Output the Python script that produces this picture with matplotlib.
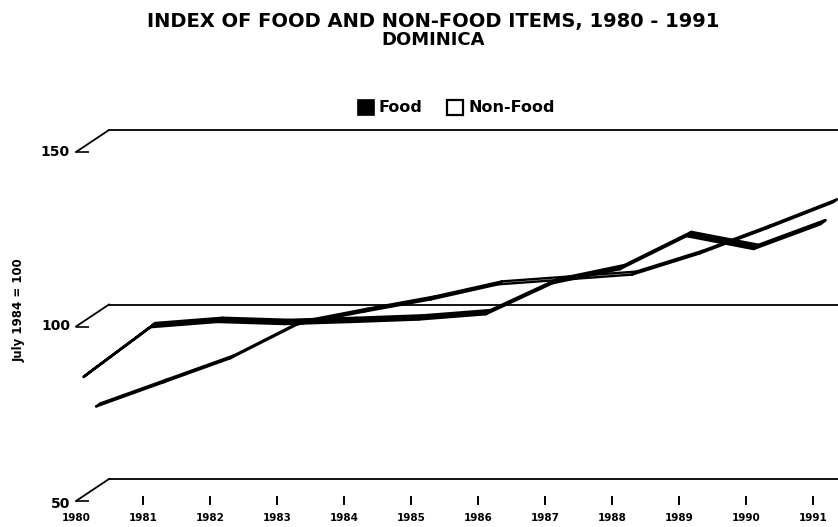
import matplotlib
matplotlib.use("Agg")
import matplotlib.pyplot as plt
from matplotlib import transforms
from matplotlib.patches import Polygon, Rectangle

# data (index, July 1984 = 100)
years = [1980, 1981, 1982, 1983, 1984, 1985, 1986, 1987, 1988, 1989, 1990, 1991]
food = [84.1, 98.4, 99.9, 99.3, 99.9, 100.6, 102.1, 111.0, 115.0, 124.5, 120.8, 127.9]
non_food = [73.2, 80.1, 87.0, 96.7, 100.4, 103.9, 108.2, 109.6, 111.0, 117.0, 124.2, 131.7]
y_ticks = [50, 100, 150]
tick_labels = [str(y) for y in years]

plt.rcParams["font.family"] = ["DejaVu Sans"]
plt.rcParams["font.weight"] = "bold"

W, H = 838, 527
fig = plt.figure(figsize=(W / 100, H / 100), dpi=100)
ax = fig.add_axes([0, 0, 1, 1])
ax.axis("off")

# pixel layout of the front plane: 1980 at x=76, 67 px per year; 50 at y=501, 3.49 px per unit
px_year, px_unit = 67.0, 3.49
ax.set_xlim(1980 - 76 / px_year, 1980 + (W - 76) / px_year)
ax.set_ylim(50 - (H - 501) / px_unit, 50 + 501 / px_unit)


def off(dx, dy):
    # shift in image pixels (dy positive = down)
    return transforms.offset_copy(ax.transData, fig=fig, x=dx, y=-dy, units="dots")


depth = (33, -22)   # front-to-back offset of the wall
x_end = ax.get_xlim()[1]

# back wall grid lines with the slanted corner
for v in y_ticks:
    ax.plot([1980, 1980 + 13 / px_year], [v, v], color="black", lw=1.2,
            transform=off(0, 0), solid_capstyle="butt")
    ax.plot([1980, 1980 + depth[0] / px_year], [v, v - depth[1] / px_unit],
            color="black", lw=1.3)
    ax.plot([1980, x_end], [v, v], color="black", lw=1.3, transform=off(*depth))
    ax.text(1980 - 6 / px_year, v, str(v), ha="right", va="center",
            fontsize=10, transform=off(0, 3 if v == 50 else 0))

# year ticks and labels along the front edge
for yr, lab in zip(years, tick_labels):
    if yr > 1980:
        ax.plot([yr, yr], [50, 50 - 7 / px_unit], color="black", lw=1.4,
                transform=off(0, -4))
    ax.text(yr, 50, lab, ha="center", va="center", fontsize=7.5,
            transform=off(0, 17))


def ribbon(vals, shift, rd, face, edge, lw):
    kx, ky = 1 / px_year, 1 / px_unit
    sx, sy = shift[0] - rd[0] / 2, shift[1] - rd[1] / 2
    for i in range(len(years) - 1):
        x0, x1 = years[i] + sx * kx, years[i + 1] + sx * kx
        y0, y1 = vals[i] - sy * ky, vals[i + 1] - sy * ky
        pts = [(x0, y0), (x1, y1),
               (x1 + rd[0] * kx, y1 - rd[1] * ky), (x0 + rd[0] * kx, y0 - rd[1] * ky)]
        ax.add_patch(Polygon(pts, closed=True, facecolor=face, edgecolor=edge,
                             lw=lw, joinstyle="round", zorder=3))


ribbon(non_food, (22, -15), (4, -3), "white", "black", 1.7)
ribbon(food, (10, -7), (5, -4), "black", "black", 1.9)

# titles
fig.text(433 / W, 1 - 22 / H, "INDEX OF FOOD AND NON-FOOD ITEMS, 1980 - 1991",
         ha="center", va="center", fontsize=14)
fig.text(433 / W, 1 - 40 / H, "DOMINICA", ha="center", va="center", fontsize=13)
fig.text(19 / W, 1 - 310 / H, "July 1984 = 100", rotation=90, ha="center",
         va="center", fontsize=8.5)

# legend
fig.patches.append(Rectangle((358 / W, 1 - 115 / H), 16 / W, 15 / H,
                             transform=fig.transFigure, facecolor="black",
                             edgecolor="black", lw=1.2))
fig.text(378 / W, 1 - 108 / H, "Food", ha="left", va="center", fontsize=11.5)
fig.patches.append(Rectangle((447 / W, 1 - 115 / H), 16 / W, 15 / H,
                             transform=fig.transFigure, facecolor="white",
                             edgecolor="black", lw=1.6))
fig.text(468 / W, 1 - 108 / H, "Non-Food", ha="left", va="center", fontsize=11.5)

fig.savefig("out.png", dpi=100, facecolor="white")
